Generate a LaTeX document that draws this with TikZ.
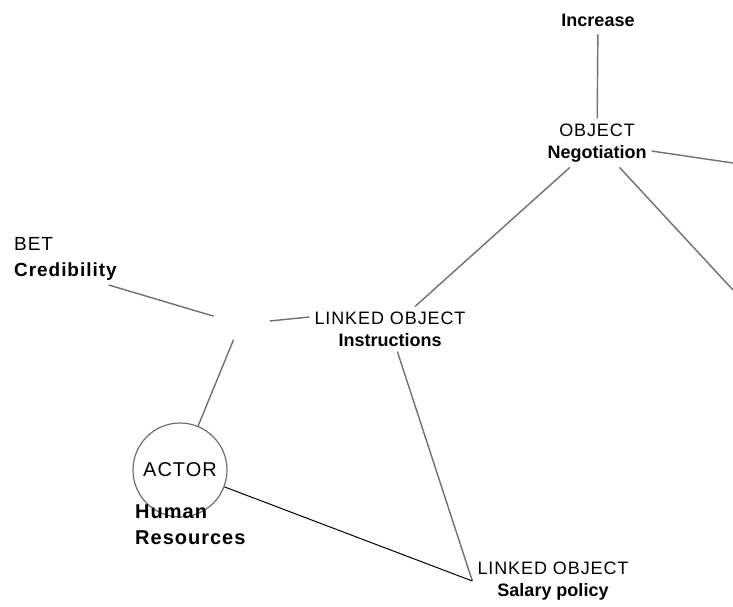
\documentclass[tikz,border=0pt]{standalone}
\usepackage{fontspec}
\setmainfont{Liberation Sans}
\usetikzlibrary{shapes.geometric}

\definecolor{linkgray}{RGB}{112,112,112}
\newcommand{\wide}{\addfontfeatures{LetterSpace=5}}
\tikzstyle{concept}=[align=center, inner sep=5pt, font=\fontsize{18}{22}\selectfont]
\tikzstyle{mylink}=[draw=linkgray, line width=1.4pt]

\begin{document}
\begin{tikzpicture}[x=1pt, y=-1pt]
			\useasboundingbox (0,0) rectangle (733,606);

		    \node (incr) at (598, 20) [concept, inner sep=8pt] {\textbf{Increase}};
		    \node (nego) at (597, 143) [concept] {{\wide OBJECT}\\\textbf{Negotiation}};
		    \node (instr) at (390, 329) [concept] {{\wide LINKED OBJECT}\\\textbf{Instructions}};
		    \node (salary) at (553, 581) [concept] {{\wide LINKED OBJECT}\\\textbf{Salary policy}};
		    \node (bet) at (9, 259) [concept, anchor=west, align=left, font=\fontsize{19}{22}\selectfont] {{\wide BET}\\[4pt]\textbf{\wide Credibility}};
		    \node (actor) at (180, 470) [circle, draw=linkgray, line width=1.2pt, minimum size=94pt, inner sep=0pt, font=\fontsize{20}{22}\selectfont] {\wide ACTOR};
		    \node (hr) at (135, 505) [anchor=north west, align=left, inner sep=0pt, font=\fontsize{20}{26}\selectfont\bfseries] {\wide Human\\\wide Resources};
		    \node (hub) at (240, 324) [ellipse, minimum width=60pt, minimum height=32pt, inner sep=0pt] {};
		    \coordinate (endA) at (733, 163);
		    \coordinate (endB) at (733, 290);

			\draw[mylink] (incr) -- (nego);
			\draw[mylink] (nego) -- (endA);
			\draw[mylink] (nego) -- (endB);
			\draw[mylink] (nego) -- (instr);
			\draw[mylink] (instr) -- (salary.west);
			\draw[mylink] (bet.east) ++(-14,26) -- (hub);
			\draw[mylink] (hub) -- ([yshift=12pt]instr.west);
			\draw[mylink] (hub) -- (actor);
			\draw[black, line width=1pt] (actor) -- (salary.west);
		\end{tikzpicture}
\end{document}
